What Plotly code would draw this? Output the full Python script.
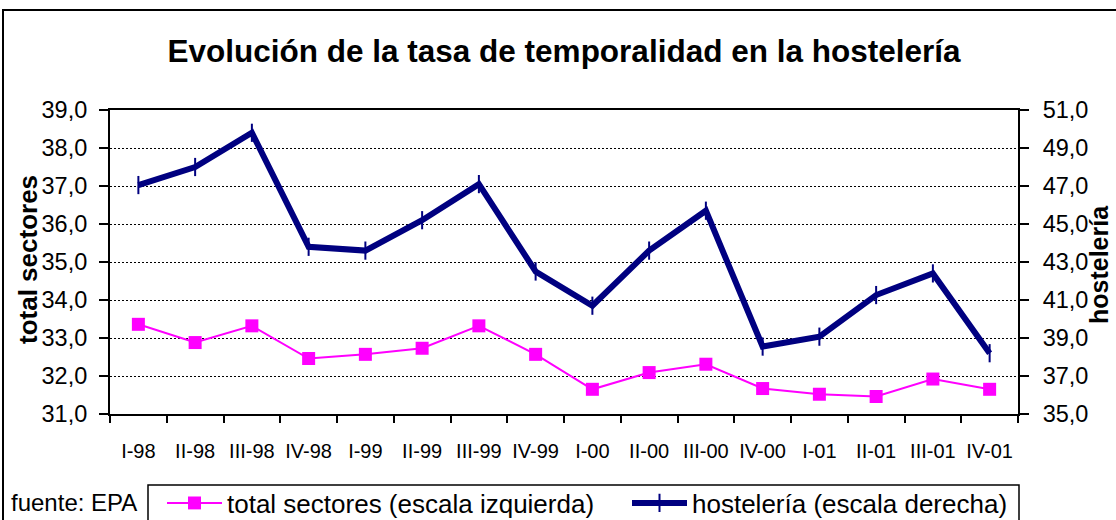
import plotly.graph_objects as go

categories = ["I-98", "II-98", "III-98", "IV-98", "I-99", "II-99", "III-99", "IV-99",
              "I-00", "II-00", "III-00", "IV-00", "I-01", "II-01", "III-01", "IV-01"]
total_sectores = [33.36, 32.88, 33.32, 32.46, 32.57, 32.73, 33.32, 32.57,
                  31.65, 32.09, 32.31, 31.67, 31.52, 31.46, 31.92, 31.65]
hosteleria = [47.05, 48.0, 49.8, 43.8, 43.6, 45.2, 47.1, 42.5,
              40.7, 43.6, 45.7, 38.55, 39.07, 41.26, 42.4, 38.2]

left_ticks = [31, 32, 33, 34, 35, 36, 37, 38, 39]
right_ticks = [35, 37, 39, 41, 43, 45, 47, 49, 51]

FONT = "Arial, Liberation Sans, sans-serif"
W, H = 1116, 520
L, R, T, B = 110, 1018, 110, 414

def px(x):
    return (x - L) / (R - L)

def py(y):
    return (B - y) / (B - T)

fig = go.Figure()

fig.add_trace(go.Scatter(
    x=categories, y=total_sectores, name="total sectores (escala izquierda)",
    mode="lines+markers",
    line=dict(color="#FF00FF", width=2),
    marker=dict(symbol="square", size=13, color="#FF00FF"),
    yaxis="y", legend="legend",
))
fig.add_trace(go.Scatter(
    x=categories, y=hosteleria, name="hostelería (escala derecha)",
    mode="lines+markers",
    line=dict(color="#000080", width=6),
    marker=dict(symbol="line-ns", size=13, color="#000080",
                line=dict(color="#000080", width=2)),
    yaxis="y2", legend="legend2",
))

legend_common = dict(orientation="h", xref="container", yref="container",
                     xanchor="left", y=1 - 503 / H, yanchor="middle",
                     bgcolor="rgba(0,0,0,0)", borderwidth=0, itemwidth=55,
                     font=dict(family=FONT, size=26, color="black"))

fig.update_layout(
    width=W, height=H,
    margin=dict(l=L, r=W - R, t=T, b=H - B, autoexpand=False),
    paper_bgcolor="white", plot_bgcolor="white",
    separators=", ",
    font=dict(family=FONT, color="black"),
    showlegend=True,
    title=dict(text="Evolución de la tasa de temporalidad en la hostelería",
               font=dict(family=FONT, size=31.5, color="black", weight="bold"),
               x=0.5, xref="paper", xanchor="center",
               y=1 - 51 / H, yref="container", yanchor="middle"),
    xaxis=dict(type="category", categoryorder="array", categoryarray=categories,
               range=[-0.5, len(categories) - 0.5],
               tickson="boundaries", ticks="outside", ticklen=7, tickwidth=2,
               tickcolor="black",
               showline=True, linecolor="black", linewidth=2, mirror=True,
               showgrid=False, ticklabelstandoff=18,
               tickfont=dict(family=FONT, size=20, color="black")),
    xaxis2=dict(overlaying="x", anchor="y", side="bottom",
                range=[-0.5, len(categories) - 0.5],
                tick0=-0.5, dtick=1, ticks="inside", ticklen=6, tickwidth=2,
                tickcolor="black", showticklabels=False, showgrid=False,
                showline=False, zeroline=False),
    yaxis=dict(range=[left_ticks[0], left_ticks[-1]], tickvals=left_ticks,
               tickformat=".1f", ticks="outside", ticklen=9, tickwidth=2,
               tickcolor="black", showline=True, linecolor="black", linewidth=2,
               showgrid=True, gridcolor="black", gridwidth=1, griddash="2px,2px",
               zeroline=False, ticklabelstandoff=7,
               tickfont=dict(family=FONT, size=23.5, color="black")),
    yaxis2=dict(range=[right_ticks[0], right_ticks[-1]], tickvals=right_ticks,
                tickformat=".1f", overlaying="y", side="right", anchor="x",
                ticks="outside", ticklen=9, tickwidth=2, tickcolor="black",
                showline=True, linecolor="black", linewidth=2,
                showgrid=False, zeroline=False, ticklabelstandoff=9,
                tickfont=dict(family=FONT, size=23.5, color="black")),
    legend=dict(x=162 / W, **legend_common),
    legend2=dict(x=627 / W, **legend_common),
)

# outer chart border (extends beyond the right and bottom edges) and legend box
fig.add_shape(type="rect", xref="paper", yref="paper",
              x0=px(3), x1=px(W + 20), y0=py(H + 20), y1=py(10),
              line=dict(color="black", width=2), fillcolor="rgba(0,0,0,0)", layer="below")
fig.add_shape(type="rect", xref="paper", yref="paper",
              x0=px(148), x1=px(1019), y0=py(H + 20), y1=py(485),
              line=dict(color="black", width=1.5), fillcolor="rgba(0,0,0,0)", layer="below")

fig.add_annotation(text="fuente: EPA", xref="paper", yref="paper",
                   x=px(9), y=py(503), xanchor="left", yanchor="middle",
                   showarrow=False, font=dict(family=FONT, size=24, color="black"))
fig.add_annotation(text="total sectores", xref="paper", yref="paper",
                   x=px(28), y=py(260), xanchor="center", yanchor="middle",
                   textangle=-90, showarrow=False,
                   font=dict(family=FONT, size=26, color="black", weight="bold"))
fig.add_annotation(text="hostelería", xref="paper", yref="paper",
                   x=px(1099), y=py(265), xanchor="center", yanchor="middle",
                   textangle=-90, showarrow=False,
                   font=dict(family=FONT, size=25, color="black", weight="bold"))

fig.write_html("out.html", config={"displayModeBar": False},
               post_script="document.body.style.margin='0';")
